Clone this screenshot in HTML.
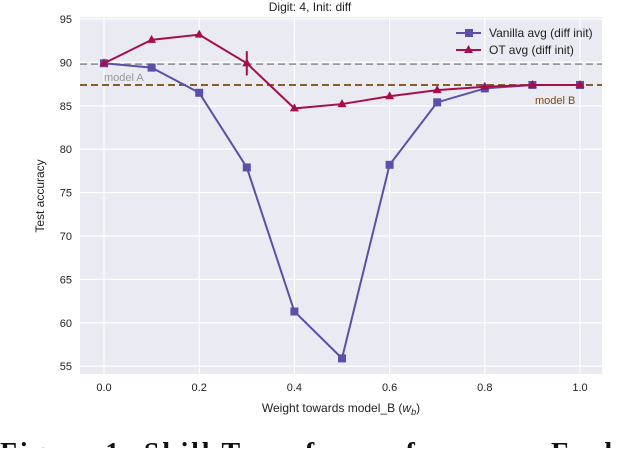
<!DOCTYPE html>
<html><head><meta charset="utf-8"><style>
body{margin:0;background:#fff;width:620px;height:448px;overflow:hidden;font-family:"Liberation Sans",sans-serif}
</style></head><body>
<svg id="chart" width="620" height="448" font-family="Liberation Sans, sans-serif">
<rect x="80" y="17" width="522" height="357" fill="#eaeaf2"/>
<g id="grid"></g>
<g id="refs"></g>
<g id="series"></g>
<text x="310" y="11" text-anchor="middle" font-size="12" fill="#222">Digit: 4, Init: diff</text>
<text x="341" y="412" text-anchor="middle" font-size="12" fill="#222">Weight towards model_B (<tspan font-style="italic">w</tspan><tspan font-style="italic" font-size="9" dy="3">b</tspan><tspan dy="-3">)</tspan></text>
<text transform="translate(44,196) rotate(-90)" text-anchor="middle" font-size="12" fill="#222">Test accuracy</text>
<g>
<line x1="456" y1="33" x2="481" y2="33" stroke="#5c4fa8" stroke-width="2"/>
<rect x="465" y="29" width="8" height="8" fill="#5c4fa8"/>
<text x="489" y="37" font-size="12" fill="#222">Vanilla avg (diff init)</text>
<line x1="456" y1="50" x2="481" y2="50" stroke="#a50f4b" stroke-width="2"/>
<path d="M468.5 45 L473 53 L464 53 Z" fill="#a50f4b"/>
<text x="489" y="54" font-size="12" fill="#222">OT avg (diff init)</text>
</g>
<text x="0" y="462" font-size="28" font-family="Liberation Serif, serif" fill="#111" font-weight="bold" textLength="620" lengthAdjust="spacing">Figure 1: Skill Transfer performance Each</text>
</svg>
<script>
const xs=[0,0.1,0.2,0.3,0.4,0.5,0.6,0.7,0.8,0.9,1.0];
const vanilla=[89.9,89.4,86.5,77.9,61.3,55.9,78.2,85.4,87.0,87.4,87.4];
const ot=[89.9,92.6,93.2,89.9,84.7,85.2,86.1,86.8,87.2,87.4,87.4];
const otErr=[0,0,0,1.4,0,0,0,0,0,0,0];
const modelA=89.8, modelB=87.4;
const xTicks=[0,0.2,0.4,0.6,0.8,1.0];
const yTicks=[55,60,65,70,75,80,85,90,95];
const X=v=>104+476*v, Y=v=>19+(95-v)*8.68;
const NS='http://www.w3.org/2000/svg';
function mk(p,t,a){const e=document.createElementNS(NS,t);for(const k in a)e.setAttribute(k,a[k]);p.appendChild(e);return e;}
const g=document.getElementById('grid'),svg=document.getElementById('chart');
xTicks.forEach(t=>{const l=mk(g,'line',{x1:X(t),x2:X(t),y1:17,y2:374,stroke:'#fff','stroke-width':1.2});

const tx=mk(svg,'text',{x:X(t),y:391,'text-anchor':'middle','font-size':11,fill:'#222'});tx.textContent=t.toFixed(1);
});
yTicks.forEach(t=>{const l=mk(g,'line',{x1:80,x2:602,y1:Y(t),y2:Y(t),stroke:'#fff','stroke-width':1.2});

const tx=mk(svg,'text',{x:72,y:Y(t)+4,'text-anchor':'end','font-size':11,fill:'#222'});tx.textContent=t;
});
const r=document.getElementById('refs');
let a=mk(r,'line',{x1:80,x2:602,y1:Y(modelA),y2:Y(modelA),stroke:'#999','stroke-width':1.8,'stroke-dasharray':'7,4'});

let b=mk(r,'line',{x1:80,x2:602,y1:Y(modelB),y2:Y(modelB),stroke:'#7a4a0c','stroke-width':1.8,'stroke-dasharray':'7,4'});

let ta=mk(r,'text',{x:104,y:Y(modelA)+17,'font-size':11,fill:'#999'});ta.textContent='model A';

let tb=mk(r,'text',{x:535,y:Y(modelB)+19,'font-size':11,fill:'#7a4a0c'});tb.textContent='model B';

const s=document.getElementById('series');
let pv=mk(s,'polyline',{points:xs.map((x,i)=>X(x)+','+Y(vanilla[i])).join(' '),fill:'none',stroke:'#5c4fa8','stroke-width':2});

xs.forEach((x,i)=>{const m=mk(s,'rect',{x:X(x)-4,y:Y(vanilla[i])-4,width:8,height:8,fill:'#5c4fa8'});
});
let po=mk(s,'polyline',{points:xs.map((x,i)=>X(x)+','+Y(ot[i])).join(' '),fill:'none',stroke:'#a50f4b','stroke-width':2});

xs.forEach((x,i)=>{const cx=X(x),cy=Y(ot[i]);
const m=mk(s,'path',{d:`M${cx} ${cy-5} L${cx+4.5} ${cy+3} L${cx-4.5} ${cy+3} Z`,fill:'#a50f4b'});

if(otErr[i]>0){const e=mk(s,'line',{x1:cx,x2:cx,y1:Y(ot[i]+otErr[i]),y2:Y(ot[i]-otErr[i]),stroke:'#a50f4b','stroke-width':2});
}});
</script>
</body></html>
